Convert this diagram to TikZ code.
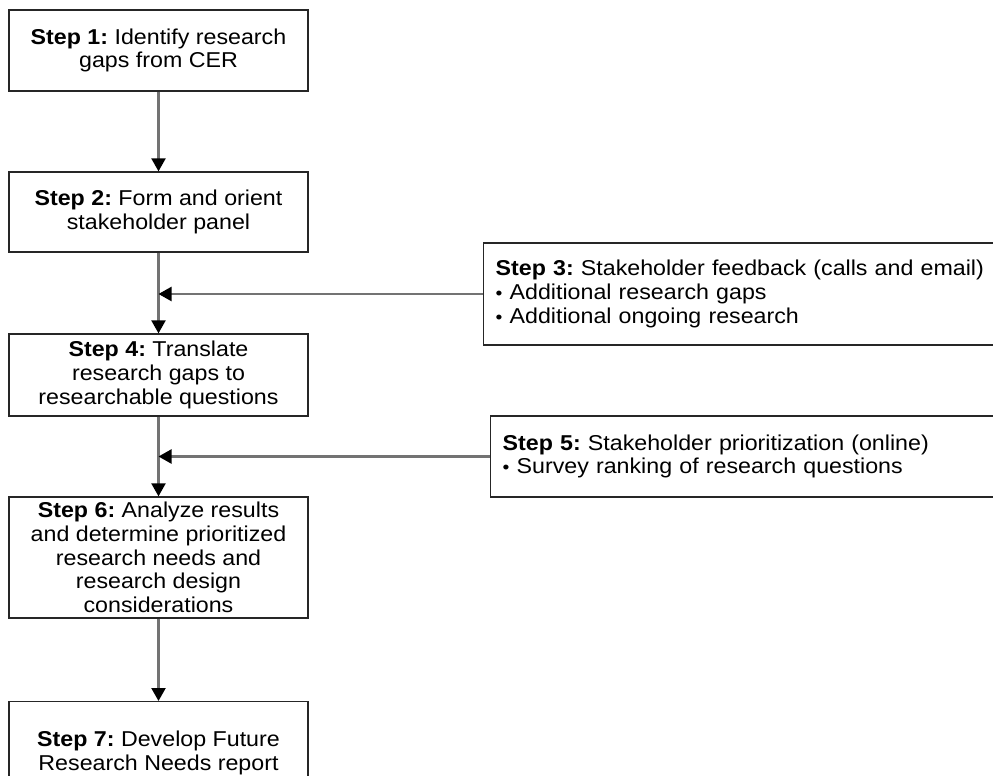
\documentclass[tikz,border=0pt]{standalone}
\usepackage{fontspec}
\setmainfont[FakeStretch=1.08]{Liberation Sans}
\usetikzlibrary{arrows.meta}
\newcommand{\bul}{{\fontsize{18}{23.8}\selectfont\textbullet}\ }
\begin{document}
\frenchspacing
\begin{tikzpicture}[x=1pt,y=-1pt,
  txt/.style={font=\fontsize{21.5}{23.8}\selectfont},
  stepbox/.style={draw=black!85, line width=1.3pt, rectangle, align=center, inner sep=0pt, txt},
  sidebox/.style={draw=black!85, line width=1.3pt, rectangle, align=left, inner xsep=12pt, inner ysep=0pt,
    anchor=west, text width=496pt, txt},
  conn/.style={draw=black!55, line width=2.2pt, -{Triangle[width=14pt,length=13pt,color=black]}}
]
\useasboundingbox (0,0) rectangle (993,776);
\clip (0,0) rectangle (993,776);
\fill[white] (0,0) rectangle (993,776);

\node[stepbox, minimum width=299pt, minimum height=81pt] (s1) at (158.5,50.5)
  {\textbf{Step 1:} Identify research\\gaps from CER};
\node[stepbox, minimum width=299pt, minimum height=80pt] (s2) at (158.5,212)
  {\textbf{Step 2:} Form and orient\\stakeholder panel};
\node[sidebox, minimum height=102pt] (s3) at (483,294)
  {\textbf{Step 3:} Stakeholder feedback (calls and email)\\
   \bul Additional research gaps\\
   \bul Additional ongoing research};
\node[stepbox, minimum width=299pt, minimum height=82pt] (s4) at (158.5,375)
  {\textbf{Step 4:} Translate\\research gaps to\\researchable questions};
\node[sidebox, minimum height=81pt] (s5) at (490,456.5)
  {\textbf{Step 5:} Stakeholder prioritization (online)\\
   \bul Survey ranking of research questions};
\node[stepbox, minimum width=299pt, minimum height=121pt] (s6) at (158.5,557.5)
  {\textbf{Step 6:} Analyze results\\and determine prioritized\\research needs and\\research design\\considerations};
\node[stepbox, minimum width=299pt, anchor=north, inner ysep=29pt] (s7) at (158.5,701)
  {\textbf{Step 7:} Develop Future\\Research Needs report};

\draw[conn] (s1) -- (s2);
\draw[conn] (s2) -- (s4);
\draw[conn] (s4) -- (s6);
\draw[conn] (s6) -- (s7);
\draw[conn] (s3.west) -- (s3.west -| s2.south);
\draw[conn] (s5.west) -- (s5.west -| s2.south);
\end{tikzpicture}
\end{document}
